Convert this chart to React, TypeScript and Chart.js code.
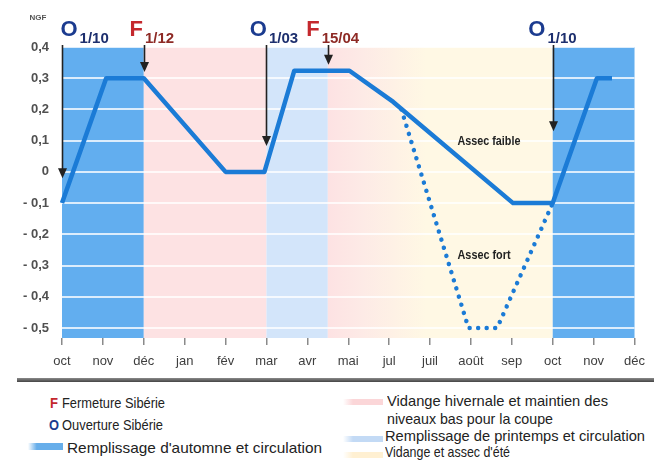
import React, { useEffect, useLayoutEffect, useRef } from 'react';
import { Chart, registerables } from 'chart.js';

Chart.register(...registerables);

// ---------- data ----------
const monthLabels = ['oct', 'nov', 'déc', 'jan', 'fév', 'mar', 'avr', 'mai', 'jul', 'juil', 'août', 'sep', 'oct', 'nov', 'déc'];
const yTickValues = [0.4, 0.3, 0.2, 0.1, 0, -0.1, -0.2, -0.3, -0.4, -0.5];

// month index counted from 1 October, level in m NGF
const faibleMonths = [0, 1.08, 2, 4, 4.95, 5.68, 7.03, 8.1, 11.03, 12, 13.08, 13.45];
const faibleLevels = [-0.1, 0.3, 0.3, 0, 0, 0.324, 0.324, 0.224, -0.1, -0.1, 0.3, 0.3];
const fortMonths = [8.3, 9.94, 10.64, 12];
const fortLevels = [0.2, -0.5, -0.5, -0.1];

// management periods
const periodStart = [0, 2, 5, 6.5, 12];
const periodEnd = [2, 5, 6.5, 12, 14];
const periodType = ['automne', 'hiver', 'printemps', 'ete', 'automne'];

// sluice events (O = ouverture, F = fermeture)
const markerLetter = ['O', 'F', 'O', 'F', 'O'];
const markerDate = ['1/10', '1/12', '1/03', '15/04', '1/10'];
const markerMonth = [0, 2, 5, 6.5, 12];
const markerTip = [-0.02, 0.32, 0.083, 0.343, 0.13];
const markerLabelMonth = [0.43, 2.03, 5.06, 6.35, 11.87];

// curve names
const curveNames = ['Assec faible', 'Assec fort'];
const curveLabelMonth = [10.44, 10.32];
const curveLabelLevel = [0.099, -0.266];

// ---------- styles ----------
const FONT = "'Liberation Sans', Arial, sans-serif";
const BAND = { automne: '#62aeef', hiver: '#fde2e3', printemps: '#d3e5fa', ete: '#fff8e4' } as Record<string, string>;
const LINE_BLUE = '#1b7bd6';
const NAVY = '#1b3b8f';
const RED = '#c4282d';

const fmtTick = (v: number) => {
  if (Math.abs(v) < 1e-9) return '0';
  const s = Math.abs(v).toFixed(1).replace('.', ',');
  return v < 0 ? '- ' + s : s;
};

const fitText = (ctx: CanvasRenderingContext2D, text: string, cx: number, cy: number, width: number, font: string, color: string) => {
  ctx.save();
  ctx.font = font;
  const w = ctx.measureText(text).width;
  ctx.translate(cx, cy);
  ctx.scale(width / w, 1);
  ctx.fillStyle = color;
  ctx.textAlign = 'center';
  ctx.textBaseline = 'middle';
  ctx.fillText(text, 0, 0);
  ctx.restore();
};

const bandsPlugin = {
  id: 'bands',
  beforeDraw(chart: any) {
    const { ctx, chartArea, scales } = chart;
    const { top, bottom } = chartArea;
    const x = scales.x;
    ctx.save();
    for (let i = 0; i < periodStart.length; i++) {
      const x0 = x.getPixelForValue(periodStart[i]);
      const x1 = x.getPixelForValue(periodEnd[i]);
      if (periodType[i] === 'ete') {
        const g = ctx.createLinearGradient(x0, 0, x.getPixelForValue(periodStart[i] + 2.4), 0);
        g.addColorStop(0, BAND.hiver);
        g.addColorStop(0.35, '#fdeae6');
        g.addColorStop(1, BAND.ete);
        ctx.fillStyle = g;
      } else {
        ctx.fillStyle = BAND[periodType[i]];
      }
      ctx.fillRect(x0, top, x1 - x0, bottom - top);
    }
    ctx.restore();
  },
};

const annotPlugin = {
  id: 'annot',
  afterDraw(chart: any) {
    const { ctx, chartArea, scales } = chart;
    const x = scales.x;
    const y = scales.y;
    ctx.save();
    // arrows
    ctx.strokeStyle = '#222';
    ctx.fillStyle = '#222';
    ctx.lineWidth = 1.6;
    for (let i = 0; i < markerMonth.length; i++) {
      const px = Math.round(x.getPixelForValue(markerMonth[i])) + 0.5;
      const tip = y.getPixelForValue(markerTip[i]);
      const startY = chartArea.top - 2;
      ctx.beginPath();
      ctx.moveTo(px, startY);
      ctx.lineTo(px, tip - 8);
      ctx.stroke();
      ctx.beginPath();
      ctx.moveTo(px - 4.5, tip - 10);
      ctx.lineTo(px + 4.5, tip - 10);
      ctx.lineTo(px, tip);
      ctx.closePath();
      ctx.fill();
    }
    // header labels
    for (let i = 0; i < markerLetter.length; i++) {
      const sx = x.getPixelForValue(markerLabelMonth[i]);
      const color = markerLetter[i] === 'O' ? NAVY : RED;
      ctx.fillStyle = color;
      ctx.textBaseline = 'alphabetic';
      ctx.font = `bold 22px ${FONT}`;
      ctx.textAlign = 'right';
      ctx.fillText(markerLetter[i], sx - 2, 36);
      ctx.font = `bold 15px ${FONT}`;
      ctx.textAlign = 'left';
      ctx.fillStyle = markerLetter[i] === 'O' ? '#1d2f6e' : '#8e2a25';
      ctx.fillText(markerDate[i], sx, 43);
    }
    // unit
    ctx.fillStyle = '#555';
    ctx.font = `bold 8px ${FONT}`;
    ctx.textAlign = 'center';
    ctx.textBaseline = 'middle';
    ctx.fillText('NGF', 38, 18);
    // curve names
    const widths = [63, 53];
    for (let i = 0; i < curveNames.length; i++) {
      fitText(ctx, curveNames[i], x.getPixelForValue(curveLabelMonth[i]), y.getPixelForValue(curveLabelLevel[i]), widths[i], `bold 13px ${FONT}`, '#222');
    }
    ctx.restore();
  },
};

// ---------- HTML legend helpers ----------
function FitSpan(props: { text: string; left: number; cy: number; width: number; size?: number; weight?: string; color?: string }) {
  const ref = useRef<HTMLSpanElement>(null);
  const size = props.size ?? 15;
  useLayoutEffect(() => {
    const el = ref.current;
    if (!el) return;
    el.style.transform = 'none';
    const w = el.getBoundingClientRect().width;
    if (w > 0) el.style.transform = `scaleX(${props.width / w})`;
  }, [props.width, props.text]);
  return (
    <span
      ref={ref}
      style={{
        position: 'absolute',
        left: props.left,
        top: props.cy - size / 2,
        fontSize: size,
        lineHeight: `${size}px`,
        fontFamily: FONT,
        fontWeight: (props.weight as any) ?? 'normal',
        color: props.color ?? '#222',
        whiteSpace: 'nowrap',
        transformOrigin: 'left center',
      }}
    >
      {props.text}
    </span>
  );
}

function Swatch(props: { left: number; top: number; width: number; height: number; color: string }) {
  return (
    <div
      style={{
        position: 'absolute',
        left: props.left,
        top: props.top,
        width: props.width,
        height: props.height,
        background: `linear-gradient(to right, rgba(255,255,255,0) 0%, ${props.color} 25%, ${props.color} 100%)`,
      }}
    />
  );
}

export default function App() {
  const canvasRef = useRef<HTMLCanvasElement>(null);

  useEffect(() => {
    document.body.style.margin = '0';
    const canvas = canvasRef.current;
    if (!canvas) return;
    const chart = new Chart(canvas, {
      type: 'line',
      data: {
        datasets: [
          {
            label: curveNames[0],
            data: faibleMonths.map((m, i) => ({ x: m, y: faibleLevels[i] })),
            borderColor: LINE_BLUE,
            borderWidth: 4.5,
            pointRadius: 0,
            tension: 0,
            borderJoinStyle: 'round',
            clip: 6,
          } as any,
          {
            label: curveNames[1],
            data: fortMonths.map((m, i) => ({ x: m, y: fortLevels[i] })),
            borderColor: LINE_BLUE,
            borderWidth: 4.5,
            borderDash: [0.01, 8.5],
            borderCapStyle: 'round',
            pointRadius: 0,
            tension: 0,
            clip: 6,
          } as any,
        ],
      },
      options: {
        animation: false,
        responsive: false,
        devicePixelRatio: 1,
        events: [],
        layout: { padding: { left: 0, right: 13, top: 47, bottom: 0 } },
        plugins: { legend: { display: false }, tooltip: { enabled: false } },
        scales: {
          x: {
            type: 'linear',
            min: 0,
            max: 14,
            afterBuildTicks: (s: any) => {
              s.ticks = monthLabels.map((_, i) => ({ value: i }));
            },
            afterFit: (s: any) => {
              s.height = 42;
            },
            ticks: {
              autoSkip: false,
              maxRotation: 0,
              padding: 9,
              color: '#3e3e3e',
              font: { family: FONT, size: 13 },
              callback: (v: any) => monthLabels[Math.round(Number(v))],
            },
            grid: { drawOnChartArea: false, drawTicks: true, tickLength: 7, color: '#8a8a8a', lineWidth: 1.5 },
            border: { display: false },
          },
          y: {
            type: 'linear',
            min: -0.532,
            max: 0.4,
            afterBuildTicks: (s: any) => {
              s.ticks = yTickValues.map((v) => ({ value: v }));
            },
            afterFit: (s: any) => {
              s.width = 62;
            },
            ticks: {
              padding: 13,
              color: '#505050',
              font: { family: FONT, size: 13, weight: 'bold' },
              callback: (v: any) => fmtTick(Number(v)),
            },
            grid: { color: 'rgba(255,255,255,0.78)', lineWidth: 2, drawTicks: false },
            border: { display: false },
          },
        },
      } as any,
      plugins: [bandsPlugin, annotPlugin],
    });
    return () => chart.destroy();
  }, []);

  return (
    <div style={{ position: 'absolute', left: 0, top: 0, width: 654, height: 470, background: '#fff', overflow: 'hidden' }}>
      <canvas ref={canvasRef} width={654} height={380} style={{ position: 'absolute', left: 0, top: 0, display: 'block' }} />
      <div style={{ position: 'absolute', left: 17, top: 378, width: 637, height: 4, background: 'linear-gradient(#8a8a8a, #444)' }} />
      {/* left column */}
      <FitSpan text="F" left={50} cy={402} width={8} size={15} weight="bold" color={RED} />
      <FitSpan text="Fermeture Sibérie" left={62} cy={402} width={103} />
      <FitSpan text="O" left={49} cy={424} width={10} size={15} weight="bold" color={NAVY} />
      <FitSpan text="Ouverture Sibérie" left={62} cy={424} width={101} />
      <Swatch left={28} top={443} width={35} height={7} color="#67aeea" />
      <FitSpan text="Remplissage d'automne et circulation" left={67} cy={447} width={255} />
      {/* right column */}
      <Swatch left={343} top={399} width={40} height={6} color="#fbd6d8" />
      <FitSpan text="Vidange hivernale et maintien des" left={387} cy={400} width={221} />
      <FitSpan text="niveaux bas pour la coupe" left={387} cy={418} width={166} />
      <Swatch left={343} top={436} width={40} height={6} color="#c3daf5" />
      <FitSpan text="Remplissage de printemps et circulation" left={385} cy={435} width={260} />
      <Swatch left={343} top={452} width={40} height={6} color="#fff0d2" />
      <FitSpan text="Vidange et assec d'été" left={385} cy={451} width={125} />
    </div>
  );
}
